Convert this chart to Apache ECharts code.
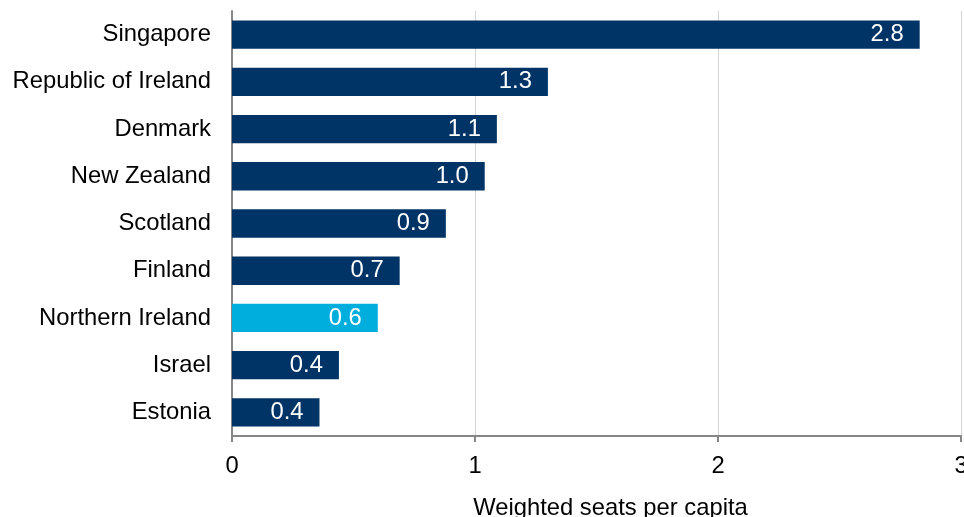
<!DOCTYPE html>
<html>
<head>
<meta charset="utf-8">
<script src="https://cdn.jsdelivr.net/npm/echarts@6/dist/echarts.min.js"></script>
<style>
  html, body { margin: 0; padding: 0; background: #ffffff; overflow: hidden; }
  #chart { width: 964px; height: 517px; }
</style>
</head>
<body>
<div id="chart"></div>
<script>
// Weighted seats per capita by country
const countries = ['Singapore', 'Republic of Ireland', 'Denmark', 'New Zealand', 'Scotland', 'Finland', 'Northern Ireland', 'Israel', 'Estonia'];
const seatsPerCapita = [2.83, 1.30, 1.09, 1.04, 0.88, 0.69, 0.60, 0.44, 0.36];
const highlighted = ['Northern Ireland'];
const xTicks = [0, 1, 2, 3];

const NAVY = '#003366';
const CYAN = '#00aede';
const FONT = 'Liberation Sans, Arial, sans-serif';
const FS = 23.8;

const chart = echarts.init(document.getElementById('chart'), null, { renderer: 'canvas' });

chart.setOption({
  animation: false,
  backgroundColor: '#ffffff',
  grid: { left: 232, right: 3, top: 11, bottom: 81, containLabel: false, outerBoundsMode: 'none' },
  xAxis: {
    type: 'value',
    min: xTicks[0],
    max: xTicks[xTicks.length - 1],
    interval: 1,
    name: 'Weighted seats per capita',
    nameLocation: 'middle',
    nameGap: 60,
    nameTextStyle: { fontFamily: FONT, fontSize: FS, color: '#000', padding: [0, 0, 0, 28] },
    axisLine: { show: true, lineStyle: { color: '#868686', width: 2 } },
    axisTick: { show: true, length: 6, lineStyle: { color: '#868686', width: 2 } },
    axisLabel: { fontFamily: FONT, fontSize: FS, color: '#000', margin: 18 },
    splitLine: { show: true, lineStyle: { color: '#d4d4d4', width: 1 } }
  },
  yAxis: {
    type: 'category',
    data: countries,
    inverse: true,
    axisLine: { show: true, lineStyle: { color: '#868686', width: 2 } },
    axisTick: { show: false },
    axisLabel: { fontFamily: FONT, fontSize: FS, color: '#000', margin: 21, padding: [3, 0, 0, 0] },
    splitLine: { show: false }
  },
  series: [{
    type: 'bar',
    barCategoryGap: '40%',
    data: seatsPerCapita.map((v, i) => ({
      value: v,
      itemStyle: { color: highlighted.includes(countries[i]) ? CYAN : NAVY }
    })),
    label: {
      show: true,
      position: 'insideRight',
      distance: 16,
      fontFamily: FONT,
      fontSize: FS,
      color: '#ffffff',
      formatter: p => p.value.toFixed(1)
    }
  }]
});
</script>
</body>
</html>
